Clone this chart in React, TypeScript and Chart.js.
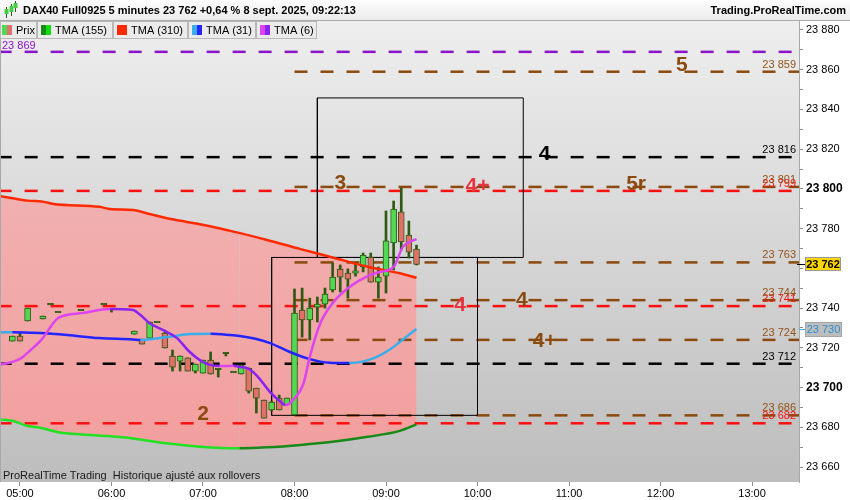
import React, { useEffect, useRef } from 'react';
import { Chart, registerables } from 'chart.js';

Chart.register(...registerables);

const FONT = '"Liberation Sans", Arial, Helvetica, sans-serif';

// ---------- price candles (5 minutes, time in minutes since 00:00) ----------
const candleTimes = [295, 300, 305, 315, 320, 325, 340, 355, 360, 375, 380, 385, 390, 395, 400, 405, 410, 415, 420, 425, 430, 435, 440, 445, 450, 455, 460, 465, 470, 475, 480, 485, 490, 495, 500, 505, 510, 515, 520, 525, 530, 535, 540, 545, 550, 555, 560];
const opens = [23723.4, 23725.9, 23733.5, 23734.5, 23742.0, 23738.0, 23739.0, 23742.0, 23739.5, 23726.9, 23724.4, 23724.9, 23733.0, 23727.4, 23715.9, 23713.3, 23714.9, 23708.3, 23707.3, 23713.8, 23709.3, 23717.4, 23707.8, 23706.8, 23709.8, 23699.7, 23693.7, 23688.7, 23694.7, 23691.2, 23686.2, 23739.0, 23734.0, 23740.5, 23742.0, 23749.1, 23759.7, 23757.6, 23757.6, 23760.7, 23765.7, 23753.1, 23756.1, 23772.8, 23788.4, 23776.8, 23769.7];
const highs = [23725.9, 23727.4, 23740.0, 23736.0, 23742.0, 23738.0, 23739.0, 23742.0, 23739.5, 23728.4, 23724.4, 23733.0, 23733.0, 23727.9, 23718.9, 23715.9, 23714.9, 23711.8, 23713.8, 23717.9, 23709.3, 23717.4, 23707.8, 23711.3, 23709.8, 23699.7, 23693.7, 23693.2, 23696.2, 23694.7, 23749.6, 23750.1, 23745.0, 23745.6, 23750.1, 23762.7, 23761.7, 23759.7, 23763.2, 23767.7, 23767.7, 23760.7, 23788.9, 23793.9, 23800.4, 23783.8, 23771.7];
const lows = [23723.4, 23723.4, 23733.5, 23734.5, 23742.0, 23738.0, 23739.0, 23742.0, 23738.0, 23726.9, 23721.9, 23724.9, 23733.0, 23719.9, 23708.3, 23708.3, 23708.3, 23707.3, 23707.3, 23706.8, 23705.3, 23715.9, 23707.8, 23706.8, 23697.2, 23687.2, 23684.6, 23688.2, 23688.7, 23691.2, 23686.2, 23725.4, 23724.0, 23733.0, 23740.0, 23748.1, 23748.1, 23745.0, 23756.1, 23758.2, 23753.1, 23745.0, 23747.6, 23759.2, 23769.2, 23765.2, 23761.7];
const closes = [23725.9, 23723.4, 23740.0, 23736.0, 23742.0, 23738.0, 23739.0, 23742.0, 23739.5, 23728.4, 23721.9, 23733.0, 23733.0, 23719.9, 23710.3, 23715.9, 23708.3, 23711.8, 23713.8, 23706.8, 23709.3, 23717.4, 23707.8, 23711.3, 23698.2, 23694.7, 23684.6, 23692.7, 23688.7, 23694.7, 23737.5, 23734.0, 23740.0, 23742.0, 23747.0, 23755.6, 23755.6, 23754.6, 23758.7, 23766.7, 23753.1, 23755.6, 23773.8, 23789.9, 23773.3, 23768.2, 23762.0];

// ---------- moving averages ----------
const tma310Times = [286, 305, 315, 322, 352, 359, 374, 385, 400, 418, 440, 462, 484, 505, 528, 549, 560];
const tma310Values = [23796.6, 23794.1, 23793.6, 23792.4, 23791.0, 23789.9, 23789.4, 23787.4, 23784.7, 23782.2, 23778.5, 23774.3, 23769.7, 23765.5, 23760.8, 23757.5, 23755.3];

const tma155Times = [286, 295, 305, 313, 326, 341, 357, 374, 396, 418, 444, 462, 484, 505, 528, 549, 560];
const tma155Values = [23684.0, 23683.3, 23680.6, 23679.8, 23677.4, 23676.4, 23675.6, 23674.4, 23671.9, 23670.2, 23669.4, 23669.9, 23671.1, 23672.7, 23675.2, 23678.2, 23681.5];

const tma31Times = [286, 295, 313, 331, 352, 374, 379, 396, 412, 425, 438, 444, 455, 464, 477, 490, 503, 516, 526, 534, 543, 549, 560];
const tma31Values = [23727.7, 23727.9, 23727.4, 23726.4, 23724.9, 23724.2, 23723.9, 23725.4, 23726.9, 23727.1, 23726.4, 23725.9, 23724.4, 23722.4, 23717.9, 23714.3, 23712.5, 23712.3, 23713.3, 23715.4, 23719.4, 23722.9, 23729.5];

const tma6Times = [286, 300, 307, 315, 320, 325, 341, 359, 374, 379, 385, 394, 403, 410, 416, 423, 431, 440, 444, 449, 455, 464, 471, 474, 479, 486, 490, 497, 505, 516, 528, 536, 545, 551, 560];
const tma6Values = [23711.3, 23714.4, 23718.9, 23724.9, 23730.5, 23735.0, 23737.5, 23739.5, 23739.0, 23736.5, 23732.4, 23728.9, 23724.9, 23718.9, 23714.9, 23711.8, 23710.8, 23711.0, 23710.3, 23709.8, 23706.3, 23697.7, 23692.7, 23691.2, 23693.7, 23702.3, 23715.4, 23732.5, 23742.5, 23750.6, 23756.1, 23758.2, 23760.7, 23770.7, 23774.8];

// ---------- horizontal levels ----------
const purpleLevels = [23869];
const blackLevels = [23816, 23712];
const redLevels = [23799, 23741, 23682];
const brownLevels = [23859, 23801, 23763, 23744, 23724, 23686];
const fullStart = 286;
const fullEnd = 807;
const brownStart = 480;
const brownEnd = 812;

// ---------- boxes ----------
const boxStarts = [465, 495];
const boxEnds = [600, 630];
const boxLows = [23686, 23765.5];
const boxHighs = [23765.5, 23845.8];

// ---------- annotations ----------
const noteTexts = ['2', '3', '4+', '4', '5r', '5', '4', '4', '4+'];
const noteTimes = [420, 510, 600, 644, 704, 734, 588.5, 629, 644];
const notePrices = [23686.7, 23803.0, 23801.2, 23817.3, 23802.2, 23862.1, 23741.5, 23744.1, 23723.4];
const noteColors = ['#8b4a0e', '#8b4a0e', '#e8343f', '#000000', '#8b4a0e', '#8b4a0e', '#e8343f', '#8b4a0e', '#8b4a0e'];

// ---------- axes ----------
const X_MIN = 286.9;
const X_MAX = 810.8;
const Y_MIN = 23652.45;
const Y_MAX = 23884.53;
const xTickTimes = [300, 360, 420, 480, 540, 600, 660, 720, 780];
const xTickLabels = ['05:00', '06:00', '07:00', '08:00', '09:00', '10:00', '11:00', '12:00', '13:00'];
const yTicks = [23660, 23670, 23680, 23690, 23700, 23710, 23720, 23730, 23740, 23750, 23760, 23770, 23780, 23790, 23800, 23810, 23820, 23830, 23840, 23850, 23860, 23870, 23880];
const yLabelStep = 20;
const yBoldTicks = [23700, 23800];

const titleText = 'DAX40 Full0925 5 minutes 23 762 +0,64 % 8 sept. 2025, 09:22:13';
const siteText = 'Trading.ProRealTime.com';
const footerText = 'ProRealTime Trading  Historique ajusté aux rollovers';
const legendNames = ['Prix', 'TMA (155)', 'TMA (310)', 'TMA (31)', 'TMA (6)'];

// ---------- colours ----------
const C_GREEN = '#52d852';
const C_RED = '#e2706a';
const C_WICK = '#2d5a12';
const C_BROWN = '#8b4a0e';
const C_BROWN_TXT = '#925419';
const C_REDLINE = '#ff1010';
const C_PURPLE = '#8a14c8';
const T310 = '#ff2a00';
const T155_UP = '#178a17';
const T155_DN = '#22e022';
const T31_UP = '#3aaeea';
const T31_DN = '#2424ff';
const T6_UP = '#dd44ee';
const T6_DN = '#8a22f0';

const fmt = (v: number) => {
  const s = String(Math.round(v));
  return s.slice(0, s.length - 3) + ' ' + s.slice(-3);
};

function lineDs(times: number[], values: number[], up: string, down: string, order: number, extra: any = {}) {
  return {
    type: 'line',
    data: times.map((t, i) => ({ x: t, y: values[i] })),
    borderColor: down,
    borderWidth: 2.5,
    pointRadius: 0,
    cubicInterpolationMode: 'monotone',
    fill: false,
    order,
    segment: {
      borderColor: (c: any) => (c.p1.parsed.y >= c.p0.parsed.y ? up : down),
    },
    ...extra,
  };
}

function levelDs(p: number, color: string, start: number, end: number) {
  return {
    type: 'line',
    data: [{ x: start, y: p }, { x: end, y: p }],
    borderColor: color,
    borderWidth: 2.5,
    borderDash: [13, 13],
    borderCapStyle: 'butt',
    pointRadius: 0,
    fill: false,
    tension: 0,
    order: 20,
  };
}

const decorPlugin = {
  id: 'decor',
  beforeDraw(chart: any) {
    const { ctx, chartArea: a } = chart;
    ctx.save();
    ctx.fillStyle = '#ffffff';
    ctx.fillRect(0, 0, chart.width, chart.height);
    const g = ctx.createLinearGradient(0, a.top, 0, a.bottom);
    g.addColorStop(0, '#eeeeee');
    g.addColorStop(1, '#bdbdbd');
    ctx.fillStyle = g;
    ctx.fillRect(a.left, a.top, a.right - a.left, a.bottom - a.top);
    ctx.restore();
  },
  afterDatasetsDraw(chart: any) {
    const { ctx, chartArea: a } = chart;
    const ys = chart.scales.y;
    const xs = chart.scales.x;
    ctx.save();
    ctx.beginPath();
    ctx.rect(a.left, a.top, a.right - a.left, a.bottom - a.top);
    ctx.clip();
    // level labels
    ctx.font = `11px ${FONT}`;
    ctx.textBaseline = 'middle';
    ctx.textAlign = 'right';
    const lx = a.right - 3;
    redLevels.forEach((p) => {
      ctx.fillStyle = C_REDLINE;
      ctx.fillText(fmt(p), lx, ys.getPixelForValue(p) - 7);
    });
    brownLevels.forEach((p) => {
      ctx.fillStyle = C_BROWN_TXT;
      ctx.fillText(fmt(p), lx, ys.getPixelForValue(p) - 7);
    });
    blackLevels.forEach((p) => {
      ctx.fillStyle = '#000';
      ctx.fillText(fmt(p), lx, ys.getPixelForValue(p) - 7);
    });
    ctx.textAlign = 'left';
    purpleLevels.forEach((p) => {
      ctx.fillStyle = C_PURPLE;
      ctx.fillText(fmt(p), a.left + 2, ys.getPixelForValue(p) - 6);
    });
    // notes
    ctx.font = `bold 21px ${FONT}`;
    ctx.textAlign = 'center';
    noteTexts.forEach((t, i) => {
      ctx.fillStyle = noteColors[i];
      ctx.fillText(t, xs.getPixelForValue(noteTimes[i]), ys.getPixelForValue(notePrices[i]));
    });
    // footer
    ctx.font = `11px ${FONT}`;
    ctx.textAlign = 'left';
    ctx.fillStyle = '#1a1a1a';
    ctx.fillText(footerText, a.left + 3, a.bottom - 6);
    ctx.restore();
  },
  afterDraw(chart: any) {
    const { ctx, chartArea: a } = chart;
    const ys = chart.scales.y;
    ctx.save();
    // left border
    ctx.strokeStyle = '#a8a8a8';
    ctx.lineWidth = 1;
    ctx.beginPath();
    ctx.moveTo(a.left + 0.5, a.top);
    ctx.lineTo(a.left + 0.5, a.bottom);
    ctx.stroke();

    // title bar
    const tg = ctx.createLinearGradient(0, 0, 0, 20);
    tg.addColorStop(0, '#fdfdfd');
    tg.addColorStop(1, '#ececec');
    ctx.fillStyle = tg;
    ctx.fillRect(0, 0, chart.width, 20);
    ctx.strokeStyle = '#a9a9a9';
    ctx.beginPath();
    ctx.moveTo(0, 20.5);
    ctx.lineTo(chart.width, 20.5);
    ctx.stroke();
    // icon
    const icon = [[6, 9, 14, 7, 12], [11, 6, 12, 4, 9], [15, 3, 8, 2, 6]];
    icon.forEach(([x, top, bot, bt, bb]) => {
      ctx.fillStyle = C_WICK;
      ctx.fillRect(x, top - 2, 1, bot - top + 6);
      ctx.fillStyle = '#44cc44';
      ctx.fillRect(x - 1.5, top, 4, bot - top);
    });
    ctx.fillStyle = '#000';
    ctx.font = `bold 11px ${FONT}`;
    ctx.textBaseline = 'middle';
    ctx.textAlign = 'left';
    ctx.fillText(titleText, 23, 11);
    ctx.textAlign = 'right';
    ctx.fillText(siteText, 846, 11);

    // legend boxes
    const bx = [0, 37, 113, 188, 256, 317];
    const sw = [[C_GREEN, C_RED], [T155_UP, '#11dd11'], [T310, T310], [T31_UP, T31_DN], [T6_UP, T6_DN]];
    for (let i = 0; i < 5; i++) {
      const x0 = bx[i];
      const x1 = bx[i + 1];
      ctx.fillStyle = '#ebebeb';
      ctx.fillRect(x0, 21, x1 - x0, 18);
      ctx.strokeStyle = '#b8b8b8';
      ctx.strokeRect(x0 + 0.5, 21.5, x1 - x0 - 1, 17);
      const sx = x0 + (i === 0 ? 2 : 4);
      ctx.fillStyle = sw[i][0];
      ctx.fillRect(sx, 25, 5, 10);
      ctx.fillStyle = sw[i][1];
      ctx.fillRect(sx + 5, 25, 5, 10);
      ctx.fillStyle = '#000';
      ctx.font = `11px ${FONT}`;
      ctx.textAlign = 'left';
      ctx.fillText(legendNames[i], sx + 14, 30.5);
    }

    // current price box
    const last = closes[closes.length - 1];
    const py = Math.round(ys.getPixelForValue(last));
    ctx.strokeStyle = '#000';
    ctx.beginPath();
    ctx.moveTo(a.right - 2, py + 0.5);
    ctx.lineTo(a.right + 6, py + 0.5);
    ctx.stroke();
    ctx.fillStyle = '#ffd500';
    ctx.fillRect(a.right + 6, py - 7, 36, 14);
    ctx.strokeStyle = '#9a9a9a';
    ctx.strokeRect(a.right + 6.5, py - 6.5, 35, 13);
    ctx.fillStyle = '#000';
    ctx.font = `bold 11px ${FONT}`;
    ctx.textAlign = 'center';
    ctx.fillText(fmt(last), a.right + 24, py + 0.5);

    // TMA31 value box
    const tv = tma31Values[tma31Values.length - 1];
    const ty = Math.round(ys.getPixelForValue(tv));
    ctx.strokeStyle = T31_UP;
    ctx.beginPath();
    ctx.moveTo(a.right, ty + 0.5);
    ctx.lineTo(a.right + 6, ty + 0.5);
    ctx.stroke();
    ctx.fillStyle = '#bdbdbd';
    ctx.fillRect(a.right + 6, ty - 7, 37, 15);
    ctx.strokeStyle = '#a5a5a5';
    ctx.strokeRect(a.right + 6.5, ty - 6.5, 36, 14);
    ctx.fillStyle = '#2a8fd0';
    ctx.font = `11px ${FONT}`;
    ctx.fillText(fmt(tv), a.right + 24.5, ty + 1);
    ctx.restore();
  },
};

export default function App() {
  const ref = useRef<HTMLCanvasElement | null>(null);

  useEffect(() => {
    if (!ref.current) return;

    const bodyData = candleTimes.map((t, i) => {
      const lo = Math.min(opens[i], closes[i]);
      const hi = Math.max(opens[i], closes[i]);
      return { x: t, y: hi - lo < 0.5 ? [lo - 0.35, lo + 0.35] : [lo, hi] };
    });
    const bodyColors = candleTimes.map((_, i) => (closes[i] > opens[i] ? C_GREEN : closes[i] < opens[i] ? C_RED : C_WICK));
    const wickData = candleTimes.map((t, i) => ({ x: t, y: [lows[i], highs[i]] }));

    const datasets: any[] = [];
    datasets.push(
      lineDs(tma310Times, tma310Values, T310, T310, 3, {
        fill: '+1',
        backgroundColor: (c: any) => {
          const area = c.chart.chartArea;
          if (!area) return 'rgba(240,170,170,1)';
          const g = c.chart.ctx.createLinearGradient(0, area.top, 0, area.bottom);
          g.addColorStop(0, '#f0bcbc');
          g.addColorStop(1, '#f39c9c');
          return g;
        },
      })
    );
    datasets.push(lineDs(tma155Times, tma155Values, T155_UP, T155_DN, 3));
    datasets.push(lineDs(tma31Times, tma31Values, T31_UP, T31_DN, 2));
    datasets.push(lineDs(tma6Times, tma6Values, T6_UP, T6_DN, 1));
    datasets.push({
      type: 'bar',
      data: bodyData,
      backgroundColor: bodyColors,
      borderColor: C_WICK,
      borderWidth: 1,
      borderSkipped: false,
      barThickness: 6,
      grouped: false,
      order: 5,
    });
    datasets.push({
      type: 'bar',
      data: wickData,
      backgroundColor: C_WICK,
      borderWidth: 0,
      barThickness: 2,
      grouped: false,
      order: 6,
    });
    boxStarts.forEach((s, i) => {
      datasets.push({
        type: 'line',
        data: [
          { x: s, y: boxLows[i] },
          { x: boxEnds[i], y: boxLows[i] },
          { x: boxEnds[i], y: boxHighs[i] },
          { x: s, y: boxHighs[i] },
          { x: s, y: boxLows[i] },
        ],
        borderColor: '#000',
        borderWidth: 1,
        pointRadius: 0,
        tension: 0,
        fill: false,
        order: 10,
      });
    });
    purpleLevels.forEach((p) => datasets.push(levelDs(p, C_PURPLE, fullStart, fullEnd)));
    blackLevels.forEach((p) => datasets.push(levelDs(p, '#000000', fullStart, fullEnd)));
    brownLevels.forEach((p) => datasets.push(levelDs(p, C_BROWN, brownStart, brownEnd)));
    redLevels.forEach((p) => datasets.push(levelDs(p, C_REDLINE, fullStart, fullEnd)));

    const chart = new Chart(ref.current, {
      type: 'bar',
      data: { datasets },
      options: {
        responsive: false,
        animation: false,
        events: [],
        layout: { padding: { top: 21, left: 0, right: 0, bottom: 0 } },
        plugins: {
          legend: { display: false },
          tooltip: { enabled: false },
          filler: { drawTime: 'beforeDatasetsDraw' },
        },
        scales: {
          x: {
            type: 'linear',
            min: X_MIN,
            max: X_MAX,
            offset: false,
            afterBuildTicks: (s: any) => {
              s.ticks = xTickTimes.map((v) => ({ value: v }));
            },
            afterFit: (s: any) => {
              s.height = 18;
            },
            ticks: {
              autoSkip: false,
              maxRotation: 0,
              padding: 1,
              color: '#000',
              font: { family: FONT, size: 11 },
              callback: (v: any) => {
                const i = xTickTimes.indexOf(Number(v));
                return i >= 0 ? xTickLabels[i] : '';
              },
            },
            grid: { drawOnChartArea: false, drawTicks: true, tickLength: 4, color: '#8c8c8c', offset: false },
            border: { display: false },
          },
          y: {
            type: 'linear',
            position: 'right',
            min: Y_MIN,
            max: Y_MAX,
            afterBuildTicks: (s: any) => {
              s.ticks = yTicks.map((v) => ({ value: v }));
            },
            afterFit: (s: any) => {
              s.width = 51;
            },
            ticks: {
              autoSkip: false,
              padding: 3,
              color: '#000',
              font: (c: any) => {
                const b = c.tick && yBoldTicks.includes(c.tick.value);
                return { family: FONT, size: b ? 12 : 11, weight: b ? 'bold' : 'normal' };
              },
              callback: (v: any) => (Number(v) % yLabelStep === 0 ? fmt(Number(v)) : ''),
            },
            grid: { drawOnChartArea: false, drawTicks: true, tickLength: 4, color: '#8c8c8c' },
            border: { display: true, color: '#a8a8a8' },
          },
        },
      } as any,
      plugins: [decorPlugin],
    } as any);

    return () => chart.destroy();
  }, []);

  return (
    <div style={{ position: 'absolute', left: 0, top: 0, width: 850, height: 500 }}>
      <canvas ref={ref} width={850} height={500} style={{ display: 'block' }} />
    </div>
  );
}
